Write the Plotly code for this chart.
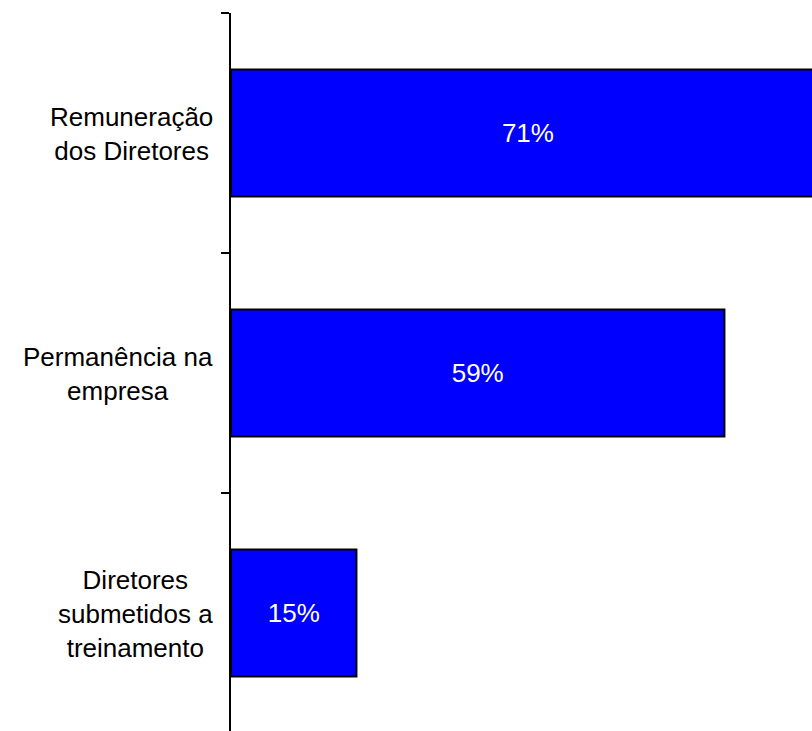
import plotly.graph_objects as go

categories = ["Remuneração dos Diretores", "Permanência na empresa", "Diretores submetidos a treinamento"]
label_text = ["Remuneração<br>dos Diretores", "Permanência na<br>empresa", "Diretores<br>submetidos a<br>treinamento"]
values = [71, 59, 15]

FONT = "Liberation Sans, Arial, sans-serif"

fig = go.Figure()
fig.add_trace(go.Bar(
    y=categories,
    x=values,
    orientation="h",
    marker=dict(color="#0000FF", line=dict(color="black", width=2)),
    texttemplate="%{x}%",
    textposition="inside",
    insidetextanchor="middle",
    textangle=0,
    constraintext="none",
    textfont=dict(color="white", size=26, family=FONT),
    hoverinfo="skip",
))

for cat, txt in zip(categories, label_text):
    fig.add_annotation(
        x=0, xref="paper", y=cat, yref="y",
        text=txt, showarrow=False,
        xanchor="right", yanchor="middle", align="center",
        xshift=-16, yshift=-1,
        font=dict(size=26, color="black", family=FONT),
    )

fig.update_layout(
    width=812, height=731,
    margin=dict(l=231, r=0, t=13, b=0, pad=0),
    plot_bgcolor="white", paper_bgcolor="white",
    showlegend=False,
    bargap=0.47,
    xaxis=dict(range=[0, 69.47], showline=False, showgrid=False, zeroline=False,
               showticklabels=False, ticks="", fixedrange=True),
    yaxis=dict(type="category", categoryorder="array", categoryarray=categories,
               range=[2.4917, -0.5], autorange=False,
               showline=True, linecolor="black", linewidth=2,
               ticks="outside", tickson="boundaries", ticklen=8, tickwidth=2, tickcolor="black",
               showticklabels=False, showgrid=False, zeroline=False, fixedrange=True),
)

fig.write_html("out.html")
